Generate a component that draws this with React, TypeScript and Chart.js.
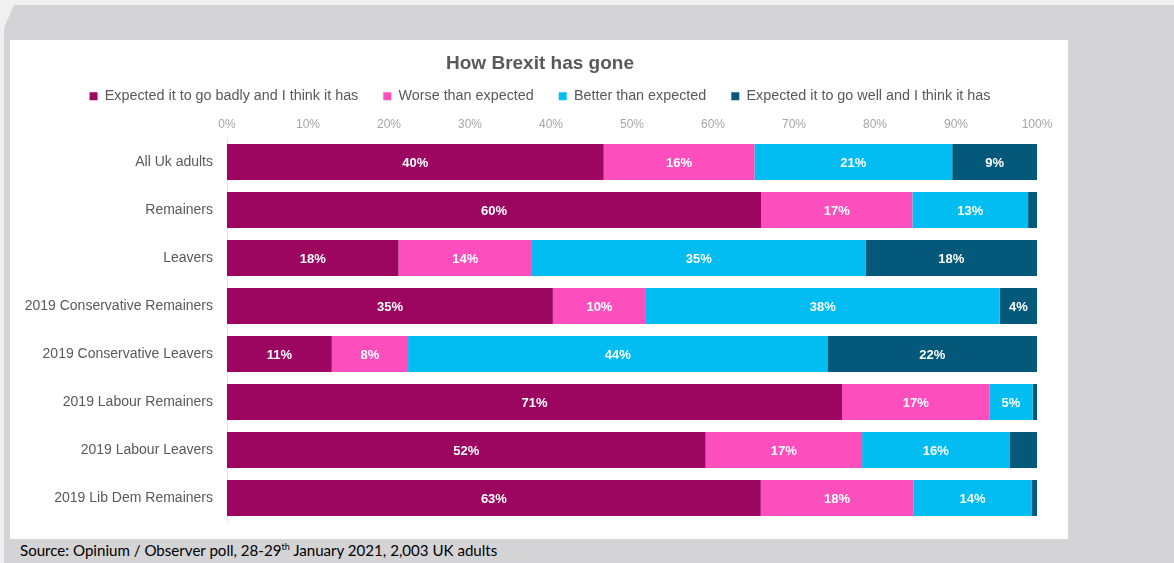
import React, { useEffect, useRef } from "react";
import { Chart, registerables } from "chart.js";

Chart.register(...registerables);

const categories = [
  "All Uk adults",
  "Remainers",
  "Leavers",
  "2019 Conservative Remainers",
  "2019 Conservative Leavers",
  "2019 Labour Remainers",
  "2019 Labour Leavers",
  "2019 Lib Dem Remainers",
];

const seriesNames = [
  "Expected it to go badly and I think it has",
  "Worse than expected",
  "Better than expected",
  "Expected it to go well and I think it has",
];

const badlyAsExpected = [40, 60, 18, 35, 11, 71, 52, 63];
const worseThanExpected = [16, 17, 14, 10, 8, 17, 17, 18];
const betterThanExpected = [21, 13, 35, 38, 44, 5, 16, 14];
const wellAsExpected = [9, 1, 18, 4, 22, 0.5, 3, 0.6];

const seriesColors = ["#9c0661", "#fc4fbd", "#02bdf1", "#04597a"];

const xTicks = [0, 10, 20, 30, 40, 50, 60, 70, 80, 90, 100];

const titleText = "How Brexit has gone";
const sourceText = "Source: Opinium / Observer poll, 28-29";
const sourceSup = "th";
const sourceRest = " January 2021, 2,003 UK adults";

const allSeries = [badlyAsExpected, worseThanExpected, betterThanExpected, wellAsExpected];

const barLabels = {
  id: "barLabels",
  afterDatasetsDraw(chart: any) {
    const ctx = chart.ctx;
    ctx.save();
    ctx.font = "bold 13px 'Liberation Sans', Arial, sans-serif";
    ctx.fillStyle = "#ffffff";
    ctx.textAlign = "center";
    ctx.textBaseline = "middle";
    chart.data.datasets.forEach((ds: any, di: number) => {
      const meta = chart.getDatasetMeta(di);
      meta.data.forEach((el: any, i: number) => {
        const w = Math.abs(el.x - el.base);
        if (w < 30) return;
        const raw = ds.rawValues[i];
        ctx.fillText(raw + "%", (el.x + el.base) / 2, el.y + 1);
      });
    });
    ctx.restore();
  },
};

export default function App() {
  const ref = useRef<HTMLCanvasElement | null>(null);

  useEffect(() => {
    const totals = categories.map((_, i) => allSeries.reduce((s, arr) => s + arr[i], 0));
    const chart = new Chart(ref.current as HTMLCanvasElement, {
      type: "bar",
      data: {
        labels: categories,
        datasets: seriesNames.map((name, si) => ({
          label: name,
          data: allSeries[si].map((v, i) => (v / totals[i]) * 100),
          rawValues: allSeries[si],
          backgroundColor: seriesColors[si],
          borderWidth: 0,
          barPercentage: 0.75,
          categoryPercentage: 1,
        })) as any,
      },
      options: {
        indexAxis: "y",
        animation: false,
        responsive: false,
        devicePixelRatio: 1,
        layout: { padding: { left: 0, right: 0, top: 0, bottom: 17 } },
        plugins: {
          tooltip: { enabled: false },
          title: {
            display: true,
            text: titleText,
            color: "#595959",
            font: { family: "'Liberation Sans', Arial, sans-serif", size: 19, weight: "bold" },
            padding: { top: 12, bottom: -10.8 },
          },
          legend: {
            display: true,
            position: "top",
            labels: {
              color: "#595959",
              font: { family: "'Liberation Sans', Arial, sans-serif", size: 14.35 },
              boxWidth: 8,
              boxHeight: 8,
              padding: 25,
            },
          },
        },
        scales: {
          x: {
            type: "linear",
            position: "top",
            stacked: true,
            min: 0,
            max: 100,
            afterBuildTicks: (scale: any) => {
              scale.ticks = xTicks.map((v) => ({ value: v }));
            },
            afterFit: (scale: any) => {
              scale.height = 24.65;
            },
            ticks: {
              color: "#a6a6a6",
              font: { family: "'Liberation Sans', Arial, sans-serif", size: 12 },
              callback: (v: any) => v + "%",
              padding: 6,
              maxRotation: 0,
            },
            grid: { display: false, drawTicks: false },
            border: { display: false },
          },
          y: {
            stacked: true,
            afterFit: (scale: any) => {
              scale.width = 217;
              scale.paddingTop = 0;
              scale.paddingBottom = 0;
            },
            ticks: {
              color: "#595959",
              font: { family: "'Liberation Sans', Arial, sans-serif", size: 14 },
              padding: 14,
            },
            grid: { display: false, drawTicks: false },
            border: { display: true, color: "#e4e4e4", width: 1 },
          },
          yRight: {
            axis: "y",
            type: "linear",
            position: "right",
            display: true,
            afterFit: (scale: any) => {
              scale.width = 33;
              scale.paddingTop = 0;
              scale.paddingBottom = 0;
            },
            ticks: { display: false },
            grid: { display: false, drawTicks: false },
            border: { display: false },
          },
        },
      },
      plugins: [barLabels],
    } as any);
    return () => chart.destroy();
  }, []);

  return (
    <div
      style={{
        position: "fixed",
        left: 0,
        top: 0,
        width: 1174,
        height: 563,
        background: "#f0f0f0",
        overflow: "hidden",
      }}
    >
      <div
        style={{
          position: "absolute",
          left: 0,
          top: 0,
          width: 1174,
          height: 563,
          background: "#d4d3d6",
          clipPath: "polygon(14px 5px, 1174px 5px, 1174px 563px, 4px 563px, 4px 28px)",
        }}
      />
      <div
        style={{
          position: "absolute",
          left: 10,
          top: 40,
          width: 1058,
          height: 499,
          background: "#ffffff",
        }}
      />
      <canvas
        ref={ref}
        width={1060}
        height={499}
        style={{ position: "absolute", left: 10, top: 40, display: "block" }}
      />
      <div
        style={{
          position: "absolute",
          left: 20,
          top: 541,
          fontFamily: "Lato, 'Open Sans', sans-serif",
          fontSize: 15.1,
          color: "#000000",
          whiteSpace: "nowrap",
        }}
      >
        {sourceText}
        <sup style={{ fontSize: 9 }}>{sourceSup}</sup>
        {sourceRest}
      </div>
    </div>
  );
}
